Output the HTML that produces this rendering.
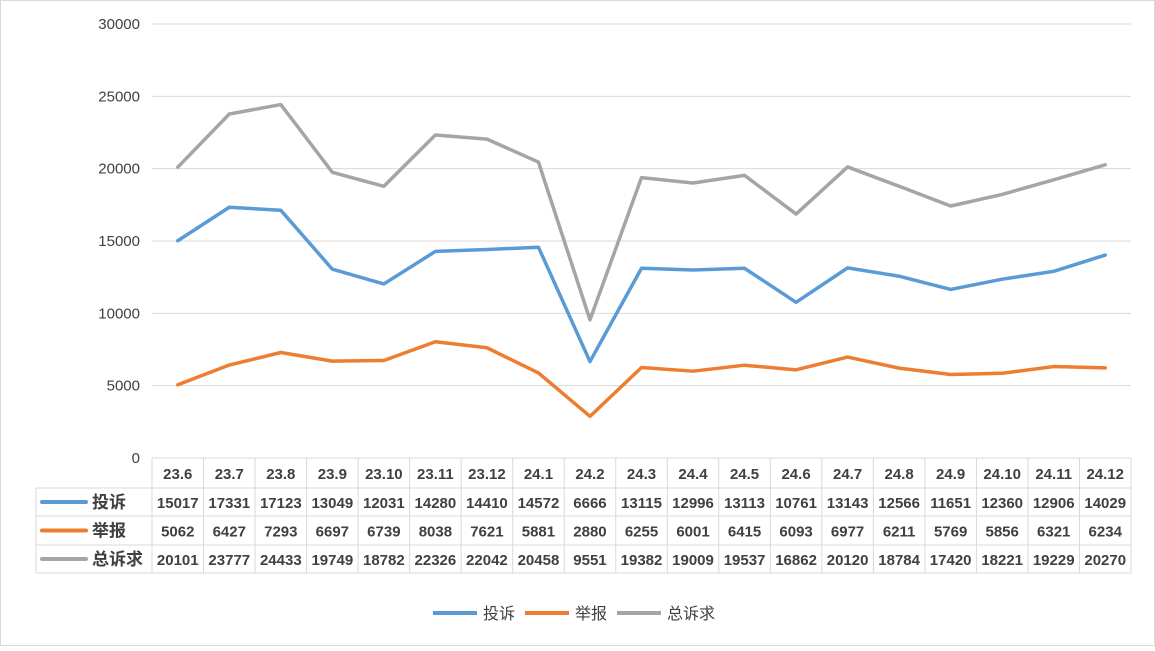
<!DOCTYPE html>
<html><head><meta charset="utf-8"><style>
body{margin:0;background:#fff;}
svg text{font-family:"Liberation Sans","Noto Sans CJK SC",sans-serif;fill:#404040;}
</style></head><body>
<svg id="c" width="1155" height="646">
<rect x="0.5" y="0.5" width="1154" height="645" fill="#fff" stroke="#d9d9d9"/>
<g id="g"></g>
</svg>
<script>
const categories=["23.6","23.7","23.8","23.9","23.10","23.11","23.12","24.1","24.2","24.3","24.4","24.5","24.6","24.7","24.8","24.9","24.10","24.11","24.12"];
const complaints=[15017,17331,17123,13049,12031,14280,14410,14572,6666,13115,12996,13113,10761,13143,12566,11651,12360,12906,14029];
const reports=[5062,6427,7293,6697,6739,8038,7621,5881,2880,6255,6001,6415,6093,6977,6211,5769,5856,6321,6234];
const totals=[20101,23777,24433,19749,18782,22326,22042,20458,9551,19382,19009,19537,16862,20120,18784,17420,18221,19229,20270];
const yTicks=[0,5000,10000,15000,20000,25000,30000];
const seriesNames=["投诉","举报","总诉求"];
const colors=["#5b9bd5","#ed7d31","#a5a5a5"];
const series=[complaints,reports,totals];
const NS="http://www.w3.org/2000/svg";
const g=document.getElementById('g');
const x0=152,x1=1131,y0=458,yTop=24,yMax=30000;
const cw=(x1-x0)/categories.length;
const X=i=>x0+cw*(i+0.5);
const Y=v=>y0-(v/yMax)*(y0-yTop);
function el(t,a,p){const e=document.createElementNS(NS,t);for(const k in a)e.setAttribute(k,a[k]);(p||g).appendChild(e);return e;}
yTicks.forEach(v=>{
 if(v>0){const l=el('line',{x1:x0,x2:x1,y1:Y(v),y2:Y(v),stroke:'#d9d9d9','stroke-width':1});
 
 }
 const t=el('text',{x:140,y:Y(v)+5,'text-anchor':'end','font-size':15});t.textContent=v;
 
 
});
// table
const rowsY=[458,488,516,545,573];
const tl=36;
const gc='#d9d9d9';
rowsY.forEach((y,r)=>{const l=el('line',{x1:r==0?x0:tl,x2:x1,y1:y,y2:y,stroke:gc});
 
 });
for(let i=0;i<=categories.length;i++){const l=el('line',{x1:x0+cw*i,x2:x0+cw*i,y1:458,y2:573,stroke:gc});
 
 }
const lv=el('line',{x1:tl,x2:tl,y1:488,y2:573,stroke:gc});


categories.forEach((c,i)=>{const t=el('text',{x:X(i),y:479,'text-anchor':'middle','font-size':15,'font-weight':'bold'});t.textContent=c;
 
 });
series.forEach((s,k)=>{
 const cy=(rowsY[k+1]+rowsY[k+2])/2;
 const key=el('line',{x1:42,x2:86,y1:cy,y2:cy,stroke:colors[k],'stroke-width':4,'stroke-linecap':'round'});
 
 
 const n=el('text',{x:92,y:cy+6,'font-size':17,'font-weight':'bold'});n.textContent=seriesNames[k];
 
 
 s.forEach((v,i)=>{const t=el('text',{x:X(i),y:cy+6,'text-anchor':'middle','font-size':15,'font-weight':'bold'});t.textContent=v;
  
  });
 const p=el('polyline',{points:s.map((v,i)=>X(i)+','+Y(v)).join(' '),fill:'none',stroke:colors[k],'stroke-width':3.5,'stroke-linejoin':'round','stroke-linecap':'round'});
 
 
});
// legend
const lx=[433,525,617];
seriesNames.forEach((n,k)=>{
 const l=el('line',{x1:lx[k],x2:lx[k]+44,y1:613,y2:613,stroke:colors[k],'stroke-width':4});
 
 
 const t=el('text',{x:lx[k]+50,y:619,'font-size':16});t.textContent=n;
 
 
});
</script>
</body></html>
